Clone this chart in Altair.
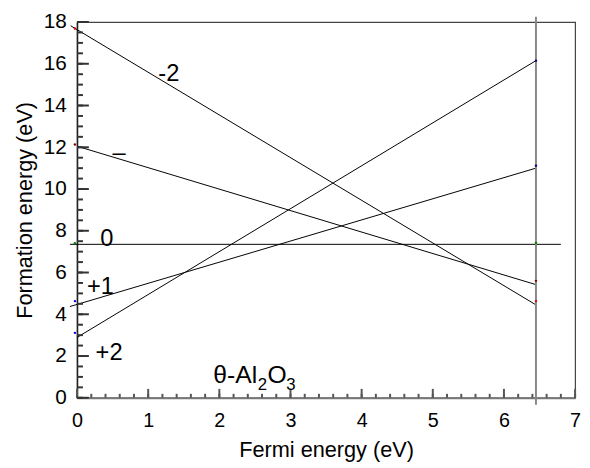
import altair as alt
import pandas as pd

FONT = "Liberation Sans"

# Formation-energy lines (charge states), start/end points
line_names = ["-2", "-1", "0", "+1", "+2"]
line_x0 = [-0.09, 0.0, -0.1, -0.1, 0.0]
line_y0 = [17.82, 12.05, 7.35, 4.37, 2.89]
line_x1 = [6.45, 6.45, 6.8, 6.45, 6.45]
line_y1 = [4.45, 5.42, 7.35, 11.0, 16.15]

# small coloured markers at both ends
dot_x = [-0.03, -0.03, -0.03, -0.03, -0.03, 6.45, 6.45, 6.45, 6.45, 6.45]
dot_y = [17.69, 12.13, 7.40, 4.63, 3.11, 16.15, 11.12, 7.42, 5.60, 4.63]
dot_c = ["#d00000", "#900000", "#008000", "#0000e0", "#0000e0",
         "#000080", "#000080", "#008000", "#800000", "#e00000"]

# charge labels
lab_text = ["-2", "\u2013", "0", "+1", "+2"]
lab_x = [1.29, 0.59, 0.42, 0.33, 0.45]
lab_y = [15.5, 11.72, 7.6, 5.29, 2.13]

# band-gap marker
gap_x = [6.45]
gap_y0 = [-0.33]
gap_y1 = [18.25]

# material label anchor
mat_x = [1.915]
mat_y = [0.71]

# axis ticks
x_major = [0, 1, 2, 3, 4, 5, 6, 7]
x_minor = [round(i * 0.2, 1) for i in range(36)]
y_major = [0, 2, 4, 6, 8, 10, 12, 14, 16, 18]
y_minor = [i * 0.5 for i in range(37)]

W, H = 505, 381
XMAX, YMAX = 7.0, 18.0

lines = pd.DataFrame({"name": line_names, "x": line_x0, "y": line_y0, "x2": line_x1, "y2": line_y1})
dots = pd.DataFrame({"x": dot_x, "y": dot_y, "c": dot_c})
labels = pd.DataFrame({"lab": lab_text, "x": lab_x, "y": lab_y})
gap = pd.DataFrame({"x": gap_x, "y": gap_y0, "y2": gap_y1})
mat = pd.DataFrame({"x": mat_x, "y": mat_y})

# tick segments: start at the axis, length converted from pixels to data units
xt = pd.DataFrame({
    "v": x_minor + x_major,
    "b": [0.0] * (len(x_minor) + len(x_major)),
    "t": [4 * YMAX / H] * len(x_minor) + [9 * YMAX / H] * len(x_major),
})
yt = pd.DataFrame({
    "v": y_minor + y_major,
    "b": [0.0] * (len(y_minor) + len(y_major)),
    "t": [6 * XMAX / W] * len(y_minor) + [12 * XMAX / W] * len(y_major),
})

xscale = alt.Scale(domain=[0, XMAX], nice=False, zero=False)
yscale = alt.Scale(domain=[0, YMAX], nice=False, zero=False)

xaxis = alt.Axis(
    title="Fermi energy (eV)", values=x_major, grid=False, ticks=False, format="d",
    labelPadding=13, labelFontSize=20, titleFontSize=22, titlePadding=10,
    labelFont=FONT, titleFont=FONT, labelColor="black", titleColor="black",
    titleFontWeight="normal", domainColor="#777777", domainWidth=2,
    labelFlush=False, labelOverlap=False,
)
yaxis = alt.Axis(
    title="Formation energy (eV)", values=y_major, grid=False, ticks=False, format="d",
    labelPadding=11, labelFontSize=21, titleFontSize=22, titlePadding=7,
    labelFont=FONT, titleFont=FONT, labelColor="black", titleColor="black",
    titleFontWeight="normal", domainColor="#222222", domainWidth=1.5,
    labelFlush=False, labelOverlap=False,
)

base_lines = alt.Chart(lines).mark_rule(color="black", strokeWidth=1).encode(
    x=alt.X("x:Q", scale=xscale, axis=xaxis),
    y=alt.Y("y:Q", scale=yscale, axis=yaxis),
    x2="x2:Q", y2="y2:Q",
)

x_tick_layer = alt.Chart(xt).mark_rule(color="#555555", strokeWidth=2).encode(
    x="v:Q", x2="v:Q", y="b:Q", y2="t:Q")
y_tick_layer = alt.Chart(yt).mark_rule(color="#333333", strokeWidth=2).encode(
    y="v:Q", y2="v:Q", x="b:Q", x2="t:Q")

gap_rule = alt.Chart(gap).mark_rule(color="#888888", strokeWidth=2).encode(
    x="x:Q", y="y:Q", y2="y2:Q"
)

dot_layer = alt.Chart(dots).mark_point(filled=True, size=6, opacity=1).encode(
    x="x:Q", y="y:Q", color=alt.Color("c:N", scale=None)
)

text_layer = alt.Chart(labels).mark_text(
    font=FONT, fontSize=24, color="black", align="center", baseline="middle"
).encode(x="x:Q", y="y:Q", text="lab:N")

mat_parts = []
for txt, dx, dy, fs in [("\u03b8-Al", 0, 0, 25), ("2", 45, 7, 17), ("O", 55, 0, 25), ("3", 74, 7, 17)]:
    mat_parts.append(
        alt.Chart(mat).mark_text(
            text=txt, font=FONT, fontSize=fs, color="black", align="left",
            baseline="alphabetic", dx=dx, dy=dy
        ).encode(x="x:Q", y="y:Q")
    )

chart = alt.layer(
    base_lines, x_tick_layer, y_tick_layer,
    gap_rule, dot_layer, text_layer, *mat_parts
).properties(
    width=W, height=H,
    autosize=alt.AutoSizeParams(type="none"),
    padding={"left": 70, "top": 11, "right": 7, "bottom": 68},
).configure_view(stroke="#444444", strokeWidth=1.2)

chart.save("out.html", embed_options={"renderer": "svg", "actions": False})
